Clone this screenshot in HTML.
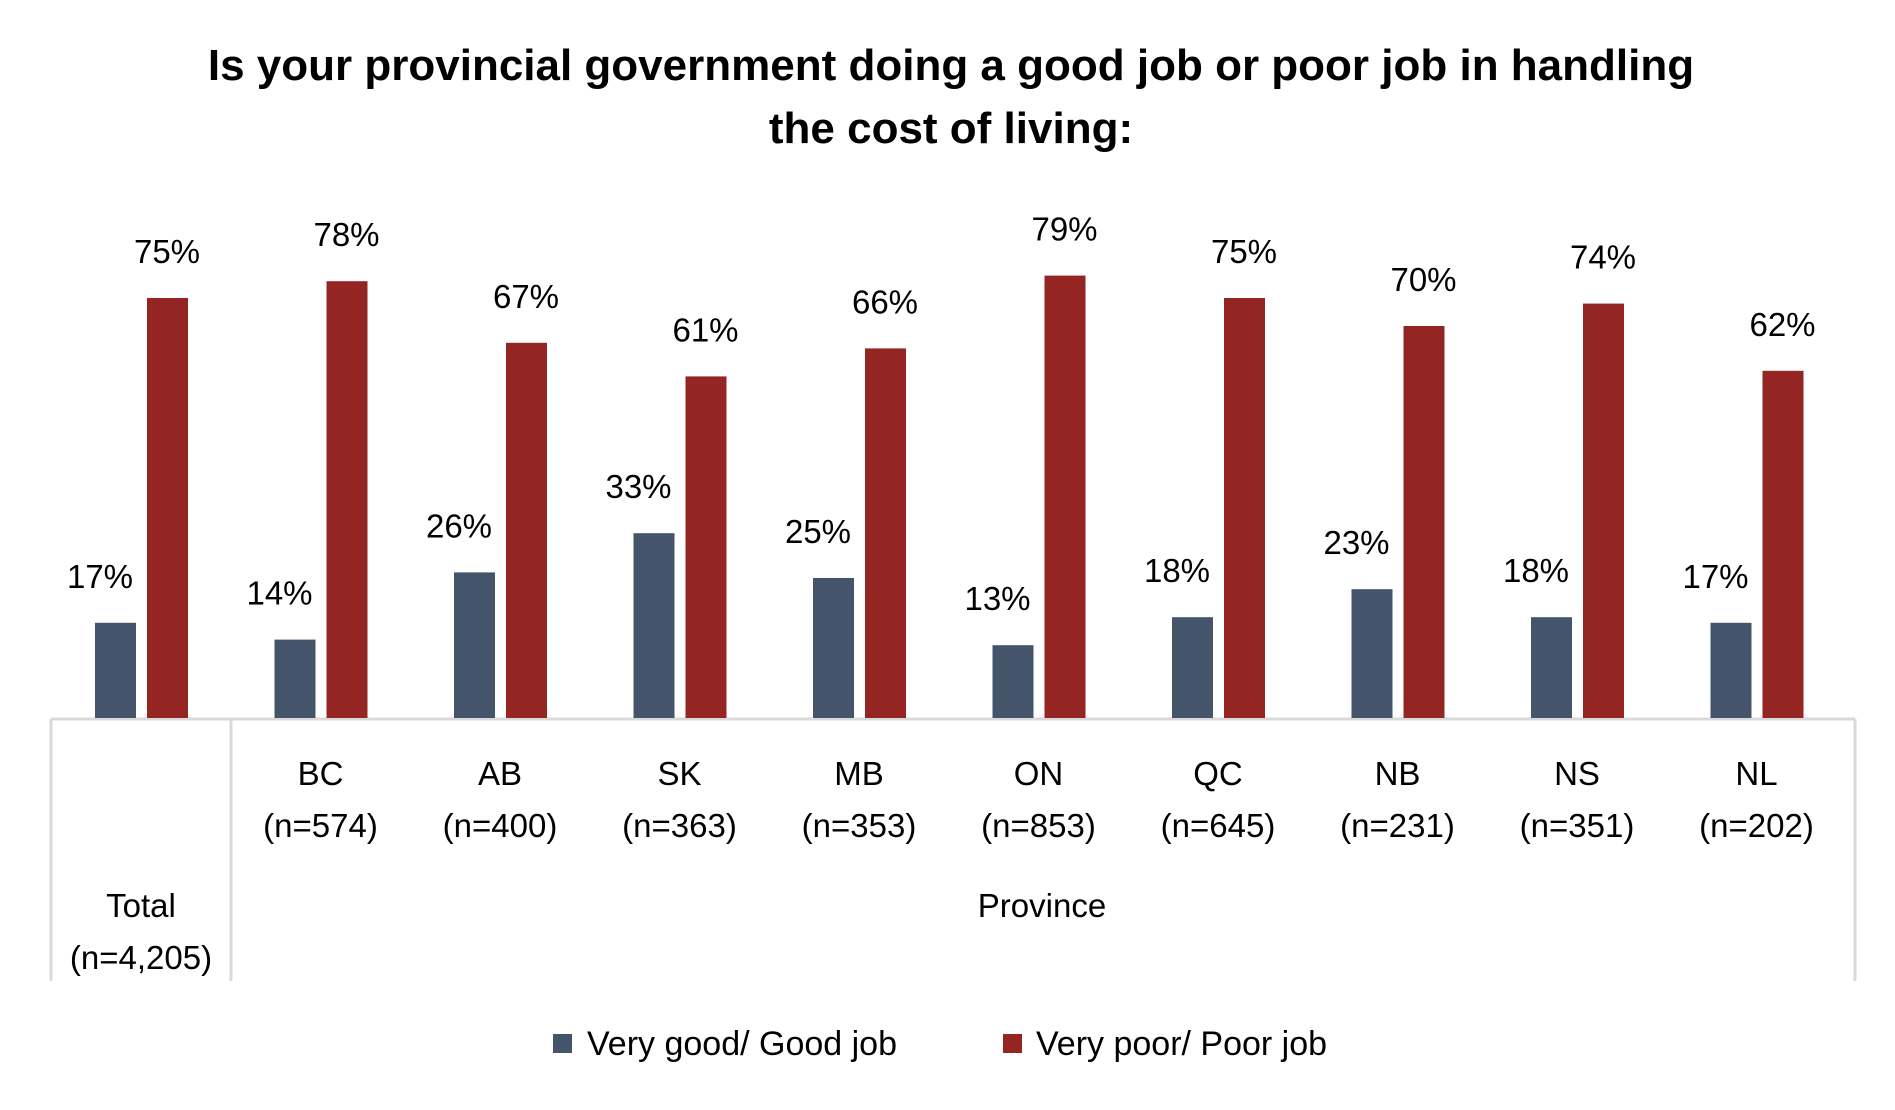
<!DOCTYPE html>
<html><head><meta charset="utf-8"><style>
body{margin:0;background:#fff}
svg text{font-family:"Liberation Sans",sans-serif;fill:#000}
</style></head><body>
<svg width="1895" height="1105" viewBox="0 0 1895 1105" xmlns="http://www.w3.org/2000/svg">
<text x="951" y="80" font-size="44" font-weight="bold" text-anchor="middle">Is your provincial government doing a good job or poor job in handling</text>
<text x="951" y="143" font-size="44" font-weight="bold" text-anchor="middle">the cost of living:</text>
<g stroke="#d9d9d9" stroke-width="3" fill="none">
<line x1="51" y1="719" x2="1855" y2="719"/>
<line x1="51" y1="719" x2="51" y2="981"/>
<line x1="231" y1="719" x2="231" y2="981"/>
<line x1="1855" y1="719" x2="1855" y2="981"/>
</g>
<g fill="#44546A">
<rect x="95" y="622.8" width="41" height="95.2"/>
<rect x="274.5" y="639.6" width="41" height="78.4"/>
<rect x="454" y="572.4" width="41" height="145.6"/>
<rect x="633.5" y="533.2" width="41" height="184.8"/>
<rect x="813" y="578" width="41" height="140"/>
<rect x="992.5" y="645.2" width="41" height="72.8"/>
<rect x="1172" y="617.2" width="41" height="100.8"/>
<rect x="1351.5" y="589.2" width="41" height="128.8"/>
<rect x="1531" y="617.2" width="41" height="100.8"/>
<rect x="1710.5" y="622.8" width="41" height="95.2"/>
</g>
<g fill="#952522">
<rect x="147" y="298" width="41" height="420"/>
<rect x="326.5" y="281.2" width="41" height="436.8"/>
<rect x="506" y="342.8" width="41" height="375.2"/>
<rect x="685.5" y="376.4" width="41" height="341.6"/>
<rect x="865" y="348.4" width="41" height="369.6"/>
<rect x="1044.5" y="275.6" width="41" height="442.4"/>
<rect x="1224" y="298" width="41" height="420"/>
<rect x="1403.5" y="326" width="41" height="392"/>
<rect x="1583" y="303.6" width="41" height="414.4"/>
<rect x="1762.5" y="370.8" width="41" height="347.2"/>
</g>
<g font-size="33" text-anchor="middle">
<text x="100" y="588">17%</text><text x="167" y="263">75%</text>
<text x="279.5" y="604.6">14%</text><text x="346.5" y="246.2">78%</text>
<text x="459" y="537.4">26%</text><text x="526" y="307.8">67%</text>
<text x="638.5" y="498.2">33%</text><text x="705.5" y="341.4">61%</text>
<text x="818" y="543">25%</text><text x="885" y="313.4">66%</text>
<text x="997.5" y="610.2">13%</text><text x="1064.5" y="240.6">79%</text>
<text x="1177" y="582.2">18%</text><text x="1244" y="263">75%</text>
<text x="1356.5" y="554.2">23%</text><text x="1423.5" y="291">70%</text>
<text x="1536" y="582.2">18%</text><text x="1603" y="268.6">74%</text>
<text x="1715.5" y="587.8">17%</text><text x="1782.5" y="335.8">62%</text>
</g>
<g font-size="33" text-anchor="middle">
<text x="141" y="917">Total</text><text x="141" y="969">(n=4,205)</text>
<text x="1042" y="917">Province</text>
<text x="320.5" y="785">BC</text><text x="320.5" y="837">(n=574)</text>
<text x="500" y="785">AB</text><text x="500" y="837">(n=400)</text>
<text x="679.5" y="785">SK</text><text x="679.5" y="837">(n=363)</text>
<text x="859" y="785">MB</text><text x="859" y="837">(n=353)</text>
<text x="1038.5" y="785">ON</text><text x="1038.5" y="837">(n=853)</text>
<text x="1218" y="785">QC</text><text x="1218" y="837">(n=645)</text>
<text x="1397.5" y="785">NB</text><text x="1397.5" y="837">(n=231)</text>
<text x="1577" y="785">NS</text><text x="1577" y="837">(n=351)</text>
<text x="1756.5" y="785">NL</text><text x="1756.5" y="837">(n=202)</text>
</g>
<rect x="553" y="1034" width="19" height="19" fill="#44546A"/>
<text x="587" y="1055" font-size="34">Very good/ Good job</text>
<rect x="1003" y="1034" width="19" height="19" fill="#952522"/>
<text x="1036" y="1055" font-size="34">Very poor/ Poor job</text>
</svg>
</body></html>
